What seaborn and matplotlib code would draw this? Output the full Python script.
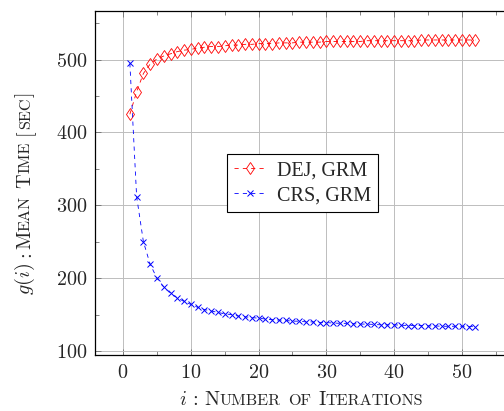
import matplotlib
matplotlib.use("Agg")
import matplotlib.pyplot as plt
import matplotlib.transforms as mtransforms
import pandas as pd
import seaborn as sns

# iterations 1..52
iters = list(range(1, 53))

dej_grm = [425, 456, 481, 494, 501, 505, 508, 511, 513, 514,
           516, 517, 518, 518, 519, 520, 520, 521, 521, 522,
           522, 522, 523, 523, 523, 524, 524, 524, 524, 525,
           525, 525, 525, 525, 525, 526, 526, 526, 526, 526,
           526, 526, 526, 527, 527, 527, 527, 527, 527, 527,
           527, 527]

crs_grm = [495, 312, 250, 219, 200, 188, 179, 173, 168, 164,
           160, 157, 155, 153, 151, 150, 148, 147, 146, 145,
           144, 143, 142.5, 142, 141, 141, 140, 140, 139, 139,
           138.5, 138, 138, 137.5, 137, 137, 136.5, 136, 136, 136,
           135.5, 135, 135, 135, 134.5, 134.5, 134, 134, 134, 134,
           133.5, 133.5]

series_names = ["DEJ, GRM", "CRS, GRM"]
x_ticks = [0, 10, 20, 30, 40, 50]
y_ticks = [100, 200, 300, 400, 500]

sns.set_style("ticks")
plt.rcParams["font.family"] = ["cmr10"]
plt.rcParams["mathtext.fontset"] = "cm"
plt.rcParams["axes.formatter.use_mathtext"] = True

S = 14.5          # main font size
s = S * 0.8       # small caps size


def caps_label(fig, parts, center, base, vertical=False):
    # lay out pieces of text one after another to fake small caps
    renderer = fig.canvas.get_renderer()
    placed = []
    for txt, size, gap in parts:
        t = fig.text(0, 0, txt, fontsize=size, family="cmr10",
                     transform=mtransforms.IdentityTransform(),
                     rotation=90 if vertical else 0, rotation_mode="anchor",
                     ha="left", va="baseline")
        bb = t.get_window_extent(renderer)
        placed.append((t, gap, bb.height if vertical else bb.width))
    total = sum(g + l for _, g, l in placed)
    pos = center - total / 2
    for t, gap, length in placed:
        pos += gap
        t.set_position((base, pos) if vertical else (pos, base))
        pos += length


fig = plt.figure(figsize=(5.04, 4.11), dpi=100)
ax = fig.add_axes([95.3 / 504, 1 - 355.3 / 411, (510 - 95.3) / 504, 344 / 411])

df_dej = pd.DataFrame({"i": iters, "g": dej_grm})
df_crs = pd.DataFrame({"i": iters, "g": crs_grm})

sns.lineplot(data=df_dej, x="i", y="g", ax=ax, color="red", lw=0.6,
             linestyle=(0, (5, 5)), marker="d", markersize=6,
             markerfacecolor="none", markeredgecolor="red",
             markeredgewidth=0.6, label=series_names[0])
sns.lineplot(data=df_crs, x="i", y="g", ax=ax, color="blue", lw=0.6,
             linestyle=(0, (5, 5)), marker="x", markersize=4.4,
             markeredgecolor="blue", markeredgewidth=0.7,
             label=series_names[1])

ax.set_xlim(-4.1, 57.1)
ax.set_ylim(94.15, 566.35)
ax.set_xticks(x_ticks)
ax.set_yticks(y_ticks)
ax.set_xticks([5, 15, 25, 35, 45, 55], minor=True)
ax.set_yticks([150, 250, 350, 450, 550], minor=True)
ax.grid(True, which="major", color="#bdbdbd", lw=0.7)
ax.set_axisbelow(True)
ax.tick_params(which="both", direction="in", top=True, right=True,
               color="#707070", labelsize=S, width=0.6)
ax.tick_params(which="major", length=4, pad=6)
ax.tick_params(which="minor", length=2.7)
for sp in ax.spines.values():
    sp.set_linewidth(0.9)
    sp.set_color("black")
ax.set_xlabel("")
ax.set_ylabel("")

leg = ax.legend(loc="center", bbox_to_anchor=(0.5, 0.5), numpoints=1,
                prop={"family": "Liberation Serif", "size": S},
                handlelength=1.6, handletextpad=0.55, labelspacing=0.3,
                borderpad=0.35, fancybox=False, framealpha=1)
leg.get_frame().set_edgecolor("black")
leg.get_frame().set_linewidth(0.8)

fig.canvas.draw()
caps_label(fig, [("$i$", S, 0), (":", S, 6), ("N", S, 6), ("UMBER", s, 0.5),
                 ("OF", s, 7), ("I", S, 7), ("TERATIONS", s, 0.5)],
           center=301, base=6)
caps_label(fig, [("$g(i)$", S, 0), (":", S, 6), ("M", S, 1.5), ("EAN", s, 0.5),
                 ("T", S, 7), ("IME", s, 0.5), ("[", S, 7), ("SEC", s, 0.5),
                 ("]", S, 0.5)],
           center=411 - 193, base=30, vertical=True)

fig.savefig("out.png", dpi=100)
